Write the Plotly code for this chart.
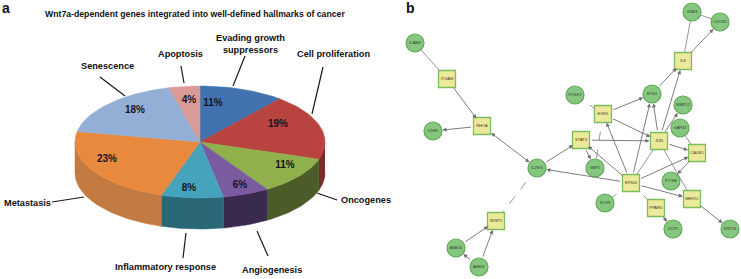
import math
import plotly.graph_objects as go

# ---------------- data: panel a (hallmarks pie) ----------------
hallmarks = ["Evading growth<br>suppressors", "Cell proliferation", "Oncogenes", "Angiogenesis",
             "Inflammatory response", "Metastasis", "Senescence", "Apoptosis"]
shares = [11, 19, 11, 6, 8, 23, 18, 4]
share_labels = ["11%", "19%", "11%", "6%", "8%", "23%", "18%", "4%"]

# ---------------- data: panel b (network) ----------------
genes = ["GNB3", "CXCR5", "ICAM2", "ITGAM", "IL8", "FOXF2", "ETV4", "MMP12", "EGR1", "RHOA",
         "CDH5", "GAP43", "STAT3", "JUN", "CALM1", "IL2RG", "GBP2", "EP300", "PYGM", "MEF2C",
         "SOX9", "PPARD", "UCP1", "KRT13", "WISP1", "ASB16", "ASB11"]
hub_genes = ["ITGAM", "RHOA", "WISP1", "EGR1", "STAT3", "JUN", "CALM1", "EP300", "MEF2C", "PPARD", "IL8"]
edge_src = ["ICAM2", "ITGAM", "RHOA", "RHOA", "IL2RG", "IL2RG", "ASB16", "ASB11", "ASB11", "EP300",
            "FOXF2", "EGR1", "EGR1", "EGR1", "STAT3", "STAT3", "EP300", "EP300", "EP300", "EP300",
            "EP300", "EP300", "EP300", "EP300", "PPARD", "JUN", "JUN", "JUN", "JUN", "JUN",
            "ETV4", "IL8", "IL8", "GNB3", "GAP43", "CALM1", "MEF2C"]
edge_dst = ["ITGAM", "RHOA", "CDH5", "IL2RG", "STAT3", "WISP1", "WISP1", "WISP1", "ASB16", "IL2RG",
            "EGR1", "ETV4", "JUN", "GBP2", "JUN", "GBP2", "STAT3", "EGR1", "ETV4", "JUN",
            "CALM1", "MEF2C", "SOX9", "PPARD", "UCP1", "ETV4", "IL8", "MMP12", "CALM1", "MEF2C",
            "IL8", "GNB3", "CXCR5", "CXCR5", "CALM1", "PYGM", "KRT13"]
edge_kind = ["line", "arrow", "arrow", "both", "arrow", "dash", "arrow", "arrow", "arrow", "arrow",
             "dash", "arrow", "arrow", "dash", "arrow", "arrow", "arrow", "arrow", "arrow", "line",
             "arrow", "arrow", "dash", "dash", "arrow", "arrow", "arrow", "arrow", "arrow", "line",
             "arrow", "line", "arrow", "line", "line", "arrow", "arrow"]

# ---------------- layout (positions / styles) ----------------
W, H = 741, 279
CX, CY, RX, RY, DEPTH = 200, 142, 125, 56, 31
top_colors = ["#4272b0", "#b8433f", "#8fb04b", "#7b5ba0", "#45a3bc", "#e8893d", "#94afd6", "#da9a97"]
side_colors = ["#2c4d78", "#7a2c2a", "#4b5c29", "#3a2a4e", "#2a6878", "#c27a40", "#60799e", "#9c6664"]
pct_pos = [(213, 103), (278, 124), (285, 165), (240, 185), (189, 188), (107, 159), (135, 110), (189, 100)]
label_pos = [(250, 44), (333, 54), (339, 200), (272, 270), (165, 267), (27, 203), (107, 66), (180, 54)]
label_anchor = ["center", "center", "left", "center", "center", "center", "center", "center"]
leader = [((245, 56), (233, 86)), ((323, 67), (312, 114)), ((337, 200), (317, 193)),
          ((268, 256), (257, 231)), ((183, 258), (186, 233)), ((52, 202), (84, 197)),
          ((100, 77), (125, 96)), ((181, 66), (184, 83))]
node_xy = {"GNB3": (692, 12), "CXCR5": (720, 22), "ICAM2": (415, 43), "ITGAM": (447, 79),
           "IL8": (683, 61), "FOXF2": (575, 95), "ETV4": (652, 94), "MMP12": (683, 105),
           "EGR1": (603, 114), "RHOA": (482, 126), "CDH5": (433, 131), "GAP43": (680, 128),
           "STAT3": (581, 140), "JUN": (659, 141), "CALM1": (697, 153), "IL2RG": (537, 168),
           "GBP2": (595, 168), "EP300": (631, 183), "PYGM": (671, 181), "MEF2C": (692, 199),
           "SOX9": (605, 203), "PPARD": (656, 208), "UCP1": (673, 229), "KRT13": (730, 229),
           "WISP1": (496, 221), "ASB16": (456, 248), "ASB11": (479, 267)}

FONT = "Arial, Liberation Sans, sans-serif"
fig = go.Figure()


def ell(theta_deg, dy=0.0):
    t = math.radians(theta_deg)
    return CX + RX * math.sin(t), CY - RY * math.cos(t) + dy


# slice angle ranges from the data
total = float(sum(shares))
bounds = []
acc = 0.0
for v in shares:
    a0 = acc / total * 360.0
    acc += v
    a1 = acc / total * 360.0
    bounds.append((a0, a1))

# sides (visible front half: 90..270 deg)
for i, (a0, a1) in enumerate(bounds):
    lo, hi = max(a0, 90.0), min(a1, 270.0)
    if lo >= hi:
        continue
    n = max(4, int((hi - lo) / 2))
    ts = [lo + (hi - lo) * k / n for k in range(n + 1)]
    xs = [ell(t)[0] for t in ts] + [ell(t, DEPTH)[0] for t in reversed(ts)]
    ys = [ell(t)[1] for t in ts] + [ell(t, DEPTH)[1] for t in reversed(ts)]
    fig.add_trace(go.Scatter(x=xs, y=ys, mode="lines", fill="toself", fillcolor=side_colors[i],
                             line=dict(color=side_colors[i], width=0.5), hoverinfo="skip",
                             showlegend=False))

# top faces
for i, (a0, a1) in enumerate(bounds):
    n = max(4, int((a1 - a0) / 2))
    ts = [a0 + (a1 - a0) * k / n for k in range(n + 1)]
    xs = [CX] + [ell(t)[0] for t in ts] + [CX]
    ys = [CY] + [ell(t)[1] for t in ts] + [CY]
    fig.add_trace(go.Scatter(x=xs, y=ys, mode="lines", fill="toself", fillcolor=top_colors[i],
                             line=dict(color=top_colors[i], width=0.5), hoverinfo="text",
                             text=hallmarks[i].replace("<br>", " ") + ": " + share_labels[i],
                             showlegend=False))

# leader lines
lx, ly = [], []
for (p, q) in leader:
    lx += [p[0], q[0], None]
    ly += [p[1], q[1], None]
fig.add_trace(go.Scatter(x=lx, y=ly, mode="lines", line=dict(color="#1a1a1a", width=1.2),
                         hoverinfo="skip", showlegend=False))

# percentage labels and category labels
fig.add_trace(go.Scatter(x=[p[0] for p in pct_pos], y=[p[1] for p in pct_pos], mode="text",
                         text=["<b>%s</b>" % s for s in share_labels],
                         textfont=dict(family=FONT, size=10, color="#15151f"),
                         hoverinfo="skip", showlegend=False))
for i, name in enumerate(hallmarks):
    fig.add_annotation(x=label_pos[i][0], y=label_pos[i][1], text="<b>%s</b>" % name,
                       showarrow=False, font=dict(family=FONT, size=9.2, color="#111"),
                       xanchor=label_anchor[i], yanchor="middle")

# ---------------- network ----------------
for s, d, k in zip(edge_src, edge_dst, edge_kind):
    (x0, y0), (x1, y1) = node_xy[s], node_xy[d]
    if k in ("line", "dash"):
        fig.add_trace(go.Scatter(x=[x0, x1], y=[y0, y1], mode="lines",
                                 line=dict(color="#8a8a8a", width=0.9,
                                           dash="dash" if k == "dash" else "solid"),
                                 hoverinfo="skip", showlegend=False))

circ = [g for g in genes if g not in hub_genes]
sq = [g for g in genes if g in hub_genes]
fig.add_trace(go.Scatter(x=[node_xy[g][0] for g in circ], y=[node_xy[g][1] for g in circ],
                         mode="markers+text", text=circ, textposition="middle center",
                         textfont=dict(family=FONT, size=4, color="#2a3a2a"),
                         marker=dict(symbol="circle", size=18, color="#86c77f",
                                     line=dict(color="#5fa857", width=1.2)),
                         hoverinfo="text", showlegend=False))
fig.add_trace(go.Scatter(x=[node_xy[g][0] for g in sq], y=[node_xy[g][1] for g in sq],
                         mode="markers+text", text=sq, textposition="middle center",
                         textfont=dict(family=FONT, size=4, color="#3a3a20"),
                         marker=dict(symbol="square", size=17, color="#ece99a",
                                     line=dict(color="#7dbd5c", width=1.3)),
                         hoverinfo="text", showlegend=False))

for s, d, k in zip(edge_src, edge_dst, edge_kind):
    if k not in ("arrow", "both"):
        continue
    (x0, y0), (x1, y1) = node_xy[s], node_xy[d]
    fig.add_annotation(x=x1, y=y1, ax=x0, ay=y0, xref="x", yref="y", axref="x", ayref="y",
                       text="", showarrow=True, arrowhead=2, arrowsize=0.9, arrowwidth=0.9,
                       arrowcolor="#6e6e6e", standoff=9.5, startstandoff=9.5,
                       arrowside="end+start" if k == "both" else "end", startarrowhead=2,
                       startarrowsize=0.9)

# panel letters & title
fig.add_annotation(x=6, y=8, text="<b>a</b>", showarrow=False, xanchor="center", yanchor="middle",
                   font=dict(family=FONT, size=14, color="#111"))
fig.add_annotation(x=410, y=8, text="<b>b</b>", showarrow=False, xanchor="center", yanchor="middle",
                   font=dict(family=FONT, size=14, color="#111"))
fig.add_annotation(x=195, y=14, text="<b>Wnt7a-dependent genes integrated into well-defined hallmarks of cancer</b>",
                   showarrow=False, xanchor="center", yanchor="middle",
                   font=dict(family=FONT, size=8.7, color="#111"))

fig.update_layout(width=W, height=H, margin=dict(l=0, r=0, t=0, b=0),
                  paper_bgcolor="white", plot_bgcolor="white",
                  xaxis=dict(range=[0, W], visible=False, fixedrange=True),
                  yaxis=dict(range=[H, 0], visible=False, fixedrange=True))
fig.write_html("out.html", config={"displayModeBar": False},
               post_script="document.body.style.margin='0';document.body.style.overflow='hidden';")
